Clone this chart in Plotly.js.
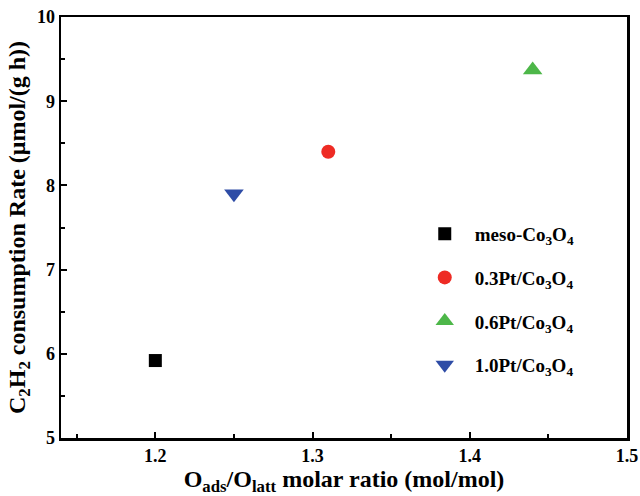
<!DOCTYPE html>
<html>
<head>
<meta charset="utf-8">
<script src="https://cdn.plot.ly/plotly-3.0.1.min.js"></script>
<style>html,body{margin:0;padding:0;background:#fff;}#chart{width:640px;height:496px;}</style>
</head>
<body>
<div id="chart"></div>
<script>
const names = ["meso-Co<sub>3</sub>O<sub>4</sub>", "0.3Pt/Co<sub>3</sub>O<sub>4</sub>", "0.6Pt/Co<sub>3</sub>O<sub>4</sub>", "1.0Pt/Co<sub>3</sub>O<sub>4</sub>"];
const ratioX = [1.20, 1.31, 1.44, 1.25];
const rateY = [5.92, 8.40, 9.37, 7.90];
const colors = ["#000000", "#EE2B24", "#4DB749", "#2E4CA6"];
const symbols = ["square", "circle", "triangle-up", "triangle-down"];
const sizes = [13, 14, 17, 17];
const xTicks = [1.2, 1.3, 1.4, 1.5];
const yTicks = [5, 6, 7, 8, 9, 10];

const font = "'Liberation Serif', 'Times New Roman', serif";
const traces = names.map((n, i) => ({
  x: [ratioX[i]], y: [rateY[i]], name: n, type: "scatter", mode: "markers",
  legendgroup: "g" + i,
  marker: {color: colors[i], symbol: symbols[i], size: sizes[i], line: {width: 0}}
}));

const layout = {
  width: 640, height: 496,
  margin: {l: 61, r: 13, t: 17, b: 58},
  paper_bgcolor: "#fff", plot_bgcolor: "#fff",
  font: {family: font, color: "#000"},
  showlegend: true,
  legend: {x: 0.625, y: 0.53, xanchor: "left", yanchor: "top", bgcolor: "rgba(0,0,0,0)",
    itemwidth: 50,
    font: {family: font, size: 19, color: "#000", weight: "bold"}, tracegroupgap: 16, traceorder: "grouped"},
  xaxis: {
    range: [1.14, 1.5], tickvals: xTicks, ticktext: xTicks.map(v => v.toFixed(1)),
    showgrid: false, zeroline: false, showline: true, linewidth: 2.5, linecolor: "#000", mirror: true,
    ticks: "inside", ticklen: 6, tickwidth: 2, tickcolor: "#000",
    minor: {dtick: 0.05, tick0: 1.15, ticks: "inside", ticklen: 4, tickwidth: 2, tickcolor: "#000"},
    tickfont: {family: font, size: 18, weight: "bold"},
    title: {text: "O<sub>ads</sub>/O<sub>latt</sub> molar ratio (mol/mol)", font: {family: font, size: 24, weight: "bold"}, standoff: 3}
  },
  yaxis: {
    range: [5, 10], tickvals: yTicks,
    showgrid: false, zeroline: false, showline: true, linewidth: 2.5, linecolor: "#000", mirror: true,
    ticks: "inside", ticklen: 6, tickwidth: 2, tickcolor: "#000",
    minor: {dtick: 0.5, tick0: 5, ticks: "inside", ticklen: 4, tickwidth: 2, tickcolor: "#000"},
    tickfont: {family: font, size: 18, weight: "bold"},
    title: {text: "C<sub>2</sub>H<sub>2</sub> consumption Rate (μmol/(g h))", font: {family: font, size: 24, weight: "bold"}, standoff: 5}
  }
};
Plotly.newPlot("chart", traces, layout, {displayModeBar: false, staticPlot: true});
</script>
</body>
</html>
